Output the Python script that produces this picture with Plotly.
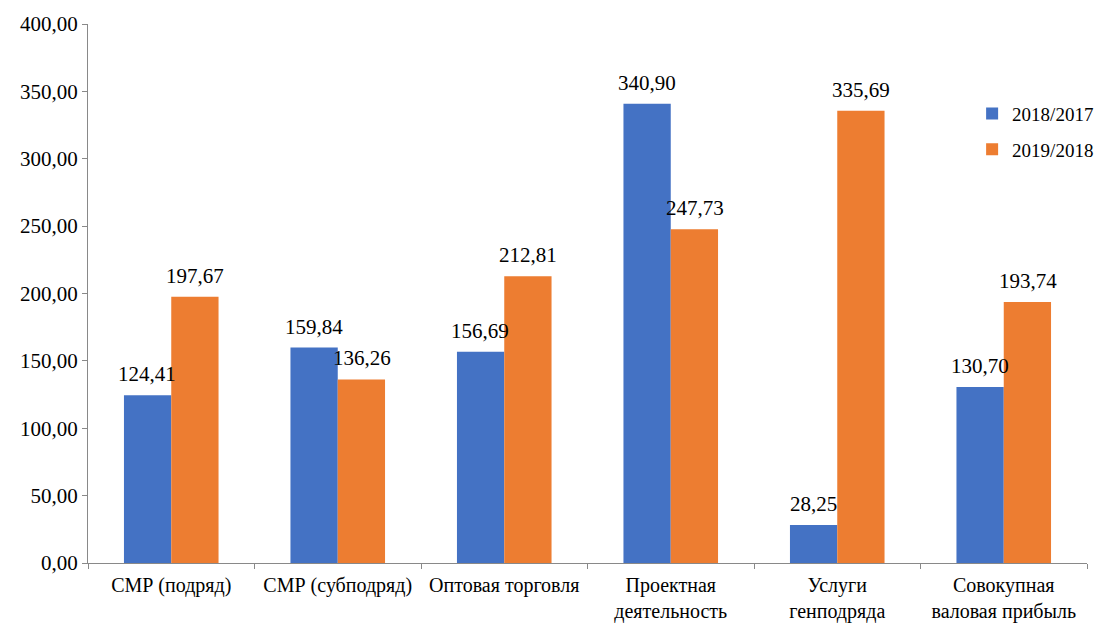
import plotly.graph_objects as go

categories = ["СМР (подряд)", "СМР (субподряд)", "Оптовая торговля",
              "Проектная<br>деятельность", "Услуги<br>генподряда",
              "Совокупная<br>валовая прибыль"]
series_names = ["2018/2017", "2019/2018"]
values_2018_2017 = [124.41, 159.84, 156.69, 340.90, 28.25, 130.70]
values_2019_2018 = [197.67, 136.26, 212.81, 247.73, 335.69, 193.74]
colors = ["#4472C4", "#ED7D31"]
y_ticks = [0, 50, 100, 150, 200, 250, 300, 350, 400]

FONT = "'Liberation Serif', 'Times New Roman', Times, serif"
FS = 21

def fmt(v):
    return f"{v:.2f}".replace(".", ",")

fig = go.Figure()
for i, (name, vals) in enumerate(zip(series_names, [values_2018_2017, values_2019_2018])):
    fig.add_trace(go.Bar(
        x=categories, y=vals, name=name, marker_color=colors[i],
        marker_line_width=0, legendgroup=name,
    ))

# data labels
bar_px = 47.6
annotations = []
for i, vals in enumerate([values_2018_2017, values_2019_2018]):
    shift = -bar_px / 2 if i == 0 else bar_px / 2
    for c, v in zip(categories, vals):
        annotations.append(dict(
            x=c, y=v, text=fmt(v), showarrow=False, xshift=shift,
            yanchor="bottom", yshift=7,
            font=dict(family=FONT, size=FS, color="#000000"),
        ))

fig.update_layout(
    width=1103, height=616,
    margin=dict(l=80, r=17, t=16, b=61),
    plot_bgcolor="white", paper_bgcolor="white",
    barmode="group", bargap=0.432, bargroupgap=0,
    separators=", ",
    font=dict(family=FONT, size=FS, color="#000000"),
    annotations=annotations,
    showlegend=True,
    legend=dict(x=0.885, y=0.869, xanchor="left", yanchor="top",
                bgcolor="rgba(0,0,0,0)", font=dict(family=FONT, size=19),
                traceorder="grouped", tracegroupgap=8),
    xaxis=dict(showline=True, linecolor="#898989", linewidth=1,
               ticks="outside", ticklen=5, tickcolor="#898989",
               tickson="boundaries", showgrid=False, tickangle=0,
               automargin=False, ticklabelstandoff=4,
               tickfont=dict(family=FONT, size=20)),
    yaxis=dict(range=[0, 400], tickvals=y_ticks, tickformat=".2f",
               showline=True, linecolor="#898989", linewidth=1,
               ticks="outside", ticklen=5, tickcolor="#898989",
               showgrid=False, zeroline=False, automargin=False,
               tickfont=dict(family=FONT, size=FS)),
)

fig.write_html("out.html")
